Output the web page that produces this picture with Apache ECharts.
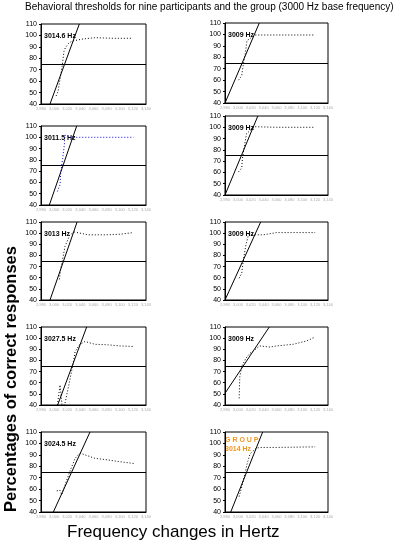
<!DOCTYPE html>
<html>
<head>
<meta charset="utf-8">
<script src="https://cdn.jsdelivr.net/npm/echarts@6/dist/echarts.min.js"></script>
<style>
  html, body { margin: 0; padding: 0; background: #fff; }
  #chart { width: 398px; height: 549px; }
</style>
</head>
<body>
<div id="chart"></div>
<script>
// panel labels (threshold at 75%)
var panelLabels = ['3014.6 Hz', '3009 Hz', '3011.5 Hz', '3009 Hz', '3013 Hz', '3009 Hz', '3027.5 Hz', '3009 Hz', '3024.5 Hz', '3014 Hz']

// measured responses (Hz, % correct)
var p1 = [[3003, 47], [3006, 51], [3009, 62], [3012, 72], [3015, 86], [3017, 89], [3022, 93], [3027, 95], [3045, 97], [3062, 98], [3090, 97.5], [3120, 97.5]]
var p2 = [[3001, 60], [3006, 64], [3008, 72], [3010, 79], [3012, 85], [3014, 94.5], [3027, 99.5], [3060, 99.5], [3120, 99.5]]
var p3 = [[3005, 52], [3009, 58], [3010, 68], [3013, 81], [3015.5, 93], [3016.5, 102], [3024, 100], [3062, 100], [3121, 100]]
var p4 = [[3001, 60.5], [3006, 64], [3007, 72], [3010, 83], [3013.5, 94.5], [3026.5, 100.5], [3060, 100], [3120, 100]]
var p5 = [[3008, 58.5], [3010, 68], [3013, 76.5], [3016.5, 88], [3024, 98.5], [3031, 101], [3052, 98.5], [3080, 98.5], [3100, 99], [3121, 100.5]]
var p6 = [[3002, 59.5], [3006, 64], [3008.5, 76], [3012.5, 89.5], [3016.5, 98.5], [3024, 98.5], [3039.5, 98.5], [3060, 100.5], [3120, 100.5]]
var p7 = [[3005, 40], [3009, 58], [3012, 40], [3016, 40], [3023, 59.5], [3029, 77.5], [3032, 88], [3038.5, 94], [3047, 97], [3062, 94.5], [3082.5, 94], [3100, 93], [3121, 92.5]]
var p8 = [[3002, 46], [3003, 65.5], [3006, 74.5], [3012.5, 82], [3019, 86.5], [3034, 93], [3050, 92], [3060, 93], [3086, 94.5], [3107, 97.5], [3120, 101]]
var p9 = [[3004, 58.5], [3009, 59], [3011.5, 55], [3016.5, 63.5], [3024, 75.5], [3032, 87], [3039.5, 91.5], [3062, 87], [3082.5, 85.5], [3100, 84], [3121, 82.5]]
var p10 = [[3002, 53.5], [3006, 62], [3011, 73.5], [3014.5, 82.5], [3019, 91], [3029, 96], [3037, 96.5], [3060, 96.5], [3120, 97]]
var responses = [p1, p2, p3, p4, p5, p6, p7, p8, p9, p10]

// fitted psychometric lines (two end points each)
var fits = [
  [[2993.7, 40], [3038.4, 110]],
  [[2980, 40], [3033.3, 110]],
  [[2992.7, 40], [3034.4, 110]],
  [[2980, 40], [3031, 110]],
  [[2993.7, 40], [3035, 110]],
  [[2980, 40], [3035.4, 110]],
  [[3005.4, 40], [3049.6, 110]],
  [[2980, 50.5], [3048.8, 110]],
  [[2998.8, 40], [3054.7, 110]],
  [[2988.9, 40], [3038.5, 110]]
]
var xTicks = [2980, 3140, 20]
var yTicks = [40, 110, 10]

// grid boxes [left, top, width, height]
var boxes = [
  [41, 24, 105, 80], [225, 23, 103, 80],
  [41, 126, 105, 79], [225, 116, 103, 79],
  [41, 222, 105, 78], [225, 222, 103, 78],
  [41, 327, 105, 78], [225, 327, 103, 78],
  [41, 432, 105, 80], [225, 432, 103, 80]
]

var font = 'Liberation Sans, Arial, sans-serif'
var grids = []
var xAxes = []
var yAxes = []
var series = []
var graphics = []

boxes.forEach(function (b, i) {
  grids.push({
    left: b[0], top: b[1], width: b[2], height: b[3],
    show: true, borderColor: '#000', borderWidth: 1, backgroundColor: '#fff'
  })
  xAxes.push({
    gridIndex: i, type: 'value', min: xTicks[0], max: xTicks[1], interval: xTicks[2],
    axisLine: { lineStyle: { color: '#000' } },
    axisTick: { show: false },
    splitLine: { show: false },
    axisLabel: { fontSize: 4, color: '#aaa', margin: 3, fontFamily: font }
  })
  yAxes.push({
    gridIndex: i, type: 'value', min: yTicks[0], max: yTicks[1], interval: yTicks[2],
    axisLine: { lineStyle: { color: '#000' } },
    axisTick: { show: true, length: 2, lineStyle: { color: '#000' } },
    splitLine: { show: false },
    axisLabel: { fontSize: 7, color: '#000', margin: 4, fontFamily: font }
  })
  series.push({
    type: 'line', xAxisIndex: i, yAxisIndex: i, data: fits[i],
    showSymbol: false, silent: true, clip: true,
    lineStyle: { color: '#000', width: 1 },
    markLine: {
      silent: true, symbol: 'none', label: { show: false },
      lineStyle: { color: '#000', width: 1, type: 'solid' },
      data: [{ yAxis: 75 }]
    }
  })
  series.push({
    type: 'line', xAxisIndex: i, yAxisIndex: i, data: responses[i],
    showSymbol: false, silent: true, clip: true,
    lineStyle: { color: i === 2 ? '#0000ee' : '#000', width: 1, type: [1, 2] }
  })
  if (i < 9) {
    graphics.push({
      type: 'text', left: b[0] + 3, top: b[1] + 9,
      style: { text: panelLabels[i], fontSize: 7, fontWeight: 'bold', fill: '#000', fontFamily: font }
    })
  }
})

// group panel label in orange
graphics.push({
  type: 'text', left: 225, top: 437,
  style: { text: 'G R O U P', fontSize: 7, fontWeight: 'bold', fill: '#f7941d', fontFamily: font }
})
graphics.push({
  type: 'text', left: 225, top: 446,
  style: { text: panelLabels[9], fontSize: 7, fontWeight: 'bold', fill: '#f7941d', fontFamily: font }
})
graphics.push({
  type: 'text', left: 25, top: 2,
  style: { text: 'Behavioral thresholds for nine participants and the group (3000 Hz base frequency)', fontSize: 10, fill: '#000', fontFamily: font }
})
graphics.push({
  type: 'text', left: 67, top: 524,
  style: { text: 'Frequency changes in Hertz', fontSize: 17, fill: '#000', fontFamily: font }
})
graphics.push({
  type: 'text', x: 3, y: 512, rotation: Math.PI / 2,
  style: { text: 'Percentages of correct responses', fontSize: 16.5, fontWeight: 'bold', fill: '#000', fontFamily: font, textAlign: 'left', textVerticalAlign: 'top' }
})

var chart = echarts.init(document.getElementById('chart'), null, { renderer: 'canvas' })
chart.setOption({
  animation: false,
  backgroundColor: '#fff',
  grid: grids,
  xAxis: xAxes,
  yAxis: yAxes,
  series: series,
  graphic: graphics
})
</script>
</body>
</html>
